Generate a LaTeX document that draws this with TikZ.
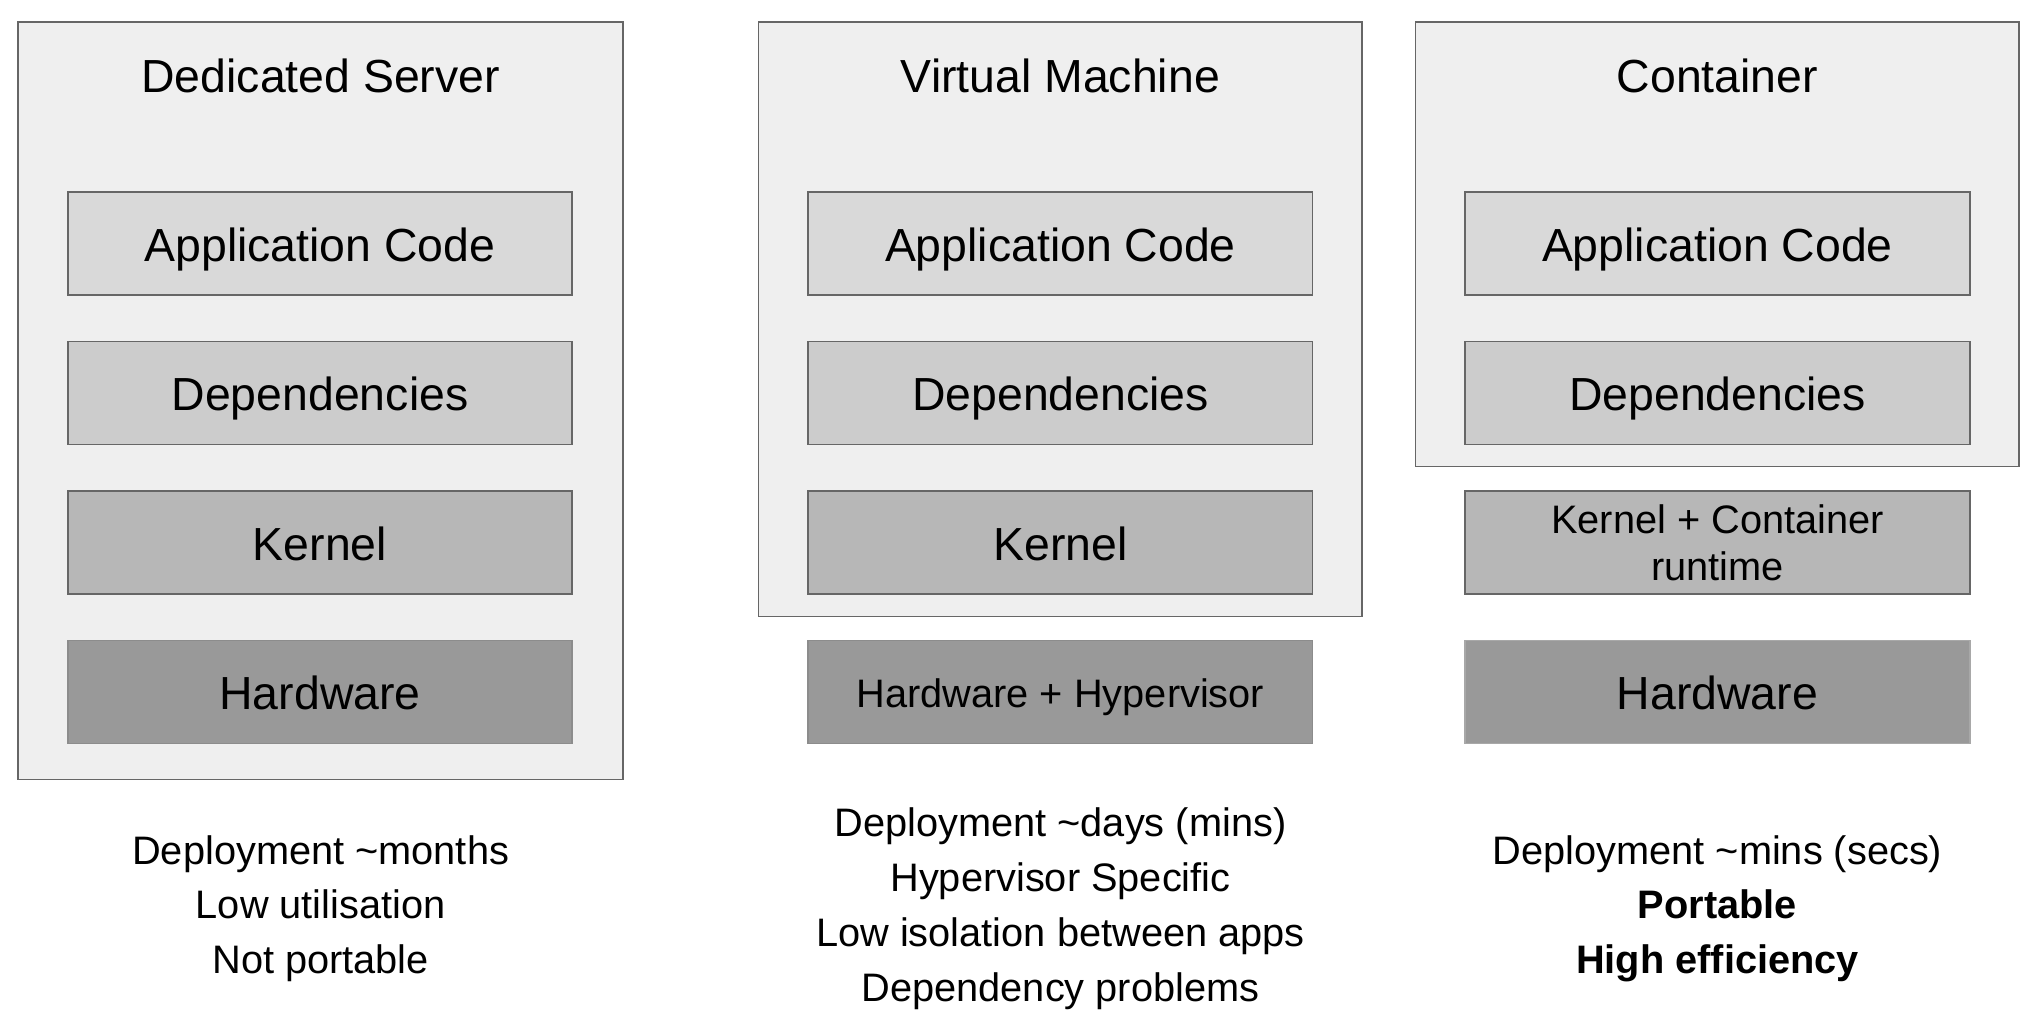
\documentclass[tikz,border=0pt]{standalone}
\usepackage{fontspec}
\setmainfont{Liberation Sans}
\usepackage{tikz}
\usetikzlibrary{positioning}

\definecolor{boxfill}{HTML}{EFEFEF}
\definecolor{appfill}{HTML}{D9D9D9}
\definecolor{depfill}{HTML}{CCCCCC}
\definecolor{kernfill}{HTML}{B7B7B7}
\definecolor{hwfill}{HTML}{999999}
\definecolor{edge}{HTML}{666666}
\definecolor{hwedge}{HTML}{8C8C8C}

\newcommand{\biglabel}{\fontsize{17.8}{21}\selectfont}
\newcommand{\smalllabel}{\fontsize{15.25}{21}\selectfont}

\begin{document}
\begin{tikzpicture}[x=0.5pt, y=-0.5pt,
	column/.style={rectangle, draw=edge, fill=boxfill, line width=0.6pt, minimum width=231.5pt, inner sep=0pt},
	layer/.style={rectangle, draw=edge, line width=0.6pt, minimum width=193.5pt, minimum height=39.5pt, inner sep=0pt, font=\biglabel, text height=13.6pt, text depth=0pt},
	title/.style={font=\biglabel},
	comment/.style={align=center, font=\smalllabel},
	node distance=17.2pt]
	\useasboundingbox (0,0) rectangle (1568,782);

	% outer frames
	\node (dsbox) [column, minimum width=232pt, minimum height=290.5pt] at (246,307.5) {};
	\node (vmbox) [column, minimum height=228pt] at (813.5,245) {};
	\node (ctbox) [column, minimum height=170.5pt] at (1317.5,187.5) {};

	% dedicated server
	\node (ds) [title] at (246,58) {Dedicated Server};
	\node (app1) [layer, fill=appfill] at (245.5,187) {Application Code};
	\node (dep1) [layer, fill=depfill, below=of app1] {Dependencies};
	\node (ker1) [layer, fill=kernfill, below=of dep1] {Kernel};
	\node (hw1) [layer, fill=hwfill, draw=hwedge, below=of ker1] {Hardware};
	\node (txt1) [comment] at (246,697) {Deployment \textasciitilde months\\Low utilisation\\Not portable};

	% virtual machine
	\node (vm) [title] at (813.5,58) {Virtual Machine};
	\node (app2) [layer, fill=appfill] at (813.5,187) {Application Code};
	\node (dep2) [layer, fill=depfill, below=of app2] {Dependencies};
	\node (ker2) [layer, fill=kernfill, below=of dep2] {Kernel};
	\node (hw2) [layer, fill=hwfill, draw=hwedge, below=of ker2, font=\smalllabel, text height=11.9pt] {Hardware + Hypervisor};
	\node (txt2) [comment] at (813.5,697) {Deployment \textasciitilde days (mins)\\Hypervisor Specific\\Low isolation between apps\\Dependency problems};

	% container
	\node (ct) [title] at (1317.5,58) {Container};
	\node (app3) [layer, fill=appfill] at (1317.5,187) {Application Code};
	\node (dep3) [layer, fill=depfill, below=of app3] {Dependencies};
	\node (ker3) [layer, fill=kernfill, below=of dep3, align=center, font=\fontsize{15.25}{18}\selectfont, text height=, text depth=] {Kernel + Container\\runtime};
	\node (hw3) [layer, fill=hwfill, draw=hwfill!85!white, below=of ker3] {Hardware};
	\node (txt3) [comment] at (1317.5,697) {Deployment \textasciitilde mins (secs)\\\textbf{Portable}\\\textbf{High efficiency}};
\end{tikzpicture}
\end{document}
